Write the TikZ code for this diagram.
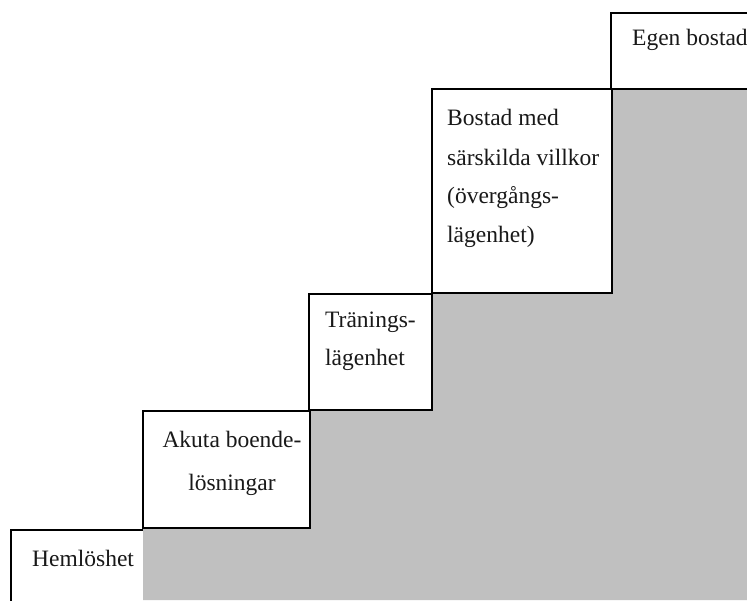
\documentclass[tikz,border=0pt]{standalone}
\usepackage{fontspec}
\setmainfont{Liberation Serif}
\definecolor{stepgray}{RGB}{192,192,192}
\begin{document}
\begin{tikzpicture}[x=1pt,y=-1pt,
  stepbox/.style={draw=black,line width=2pt,fill=white},
  steptext/.style={inner sep=0pt,font=\fontsize{23.5}{39}\selectfont,text=black!90}]
\useasboundingbox (0,0) rectangle (747,600);
\clip (0,0) rectangle (747,600);
% grey staircase
\fill[stepgray] (143,600) -- (143,411) -- (309,411) -- (309,294) -- (432,294) -- (432,89) -- (747,89) -- (747,600) -- cycle;
% step 1
\fill[white] (11,530) rectangle (143,602);
\draw[line width=2pt] (11,602) -- (11,530) -- (143,530);
% steps 2-5
\draw[stepbox] (143,411) rectangle (310,528);
\draw[stepbox] (309,294) rectangle (432,410);
\draw[stepbox] (432,89) rectangle (612,293);
\draw[stepbox] (611,13) rectangle (750,89);
% texts
\node[steptext,anchor=base west] (hem) at (32,566) {Hemlöshet};
\node[steptext,anchor=base,align=center] (aku1) at (232,447) {Akuta boende-};
\node[steptext,anchor=base,align=center] (aku2) at (232,490) {lösningar};
\node[steptext,anchor=base west] (tra1) at (325,327) {Tränings-};
\node[steptext,anchor=base west] (tra2) at (325,365) {lägenhet};
\node[steptext,anchor=base west] (bos1) at (447,125) {Bostad med};
\node[steptext,anchor=base west] (bos2) at (447,165) {särskilda villkor};
\node[steptext,anchor=base west] (bos3) at (447,203) {(övergångs-};
\node[steptext,anchor=base west] (bos4) at (447,242) {lägenhet)};
\node[steptext,anchor=base west] (ege) at (632,45) {Egen bostad};
\end{tikzpicture}
\end{document}
